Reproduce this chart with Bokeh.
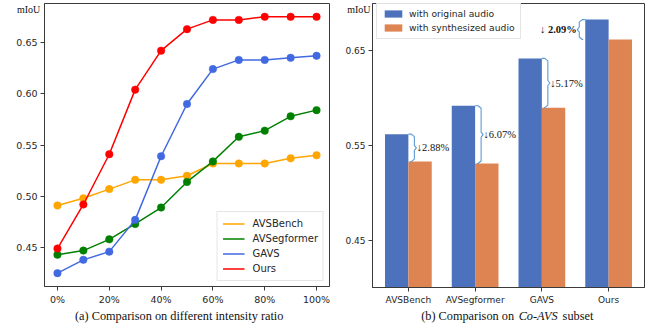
from bokeh.plotting import figure
from bokeh.models import (FixedTicker, Label, Legend, LegendItem, Range1d)
from bokeh.layouts import row, column
from bokeh.embed import file_html
from bokeh.resources import INLINE
from bokeh.core.properties import value

# ---------------- data ----------------
ratios = [0, 10, 20, 30, 40, 50, 60, 70, 80, 90, 100]
ratio_ticks = [0, 20, 40, 60, 80, 100]
ratio_tick_labels = ["0%", "20%", "40%", "60%", "80%", "100%"]

avsbench = [0.491, 0.498, 0.507, 0.516, 0.516, 0.520, 0.532, 0.532, 0.532, 0.537, 0.540]
avsegformer = [0.443, 0.447, 0.458, 0.473, 0.489, 0.514, 0.534, 0.558, 0.564, 0.578, 0.584]
gavs = [0.425, 0.438, 0.446, 0.477, 0.539, 0.590, 0.624, 0.633, 0.633, 0.635, 0.637]
ours = [0.449, 0.492, 0.541, 0.604, 0.642, 0.663, 0.672, 0.672, 0.675, 0.675, 0.675]
series_names = ["AVSBench", "AVSegformer", "GAVS", "Ours"]
series_values = [avsbench, avsegformer, gavs, ours]
series_colors = ["orange", "green", "royalblue", "red"]

left_yticks = [0.45, 0.50, 0.55, 0.60, 0.65]

categories = ["AVSBench", "AVSegformer", "GAVS", "Ours"]
original_audio = [0.562, 0.592, 0.642, 0.683]
synth_audio = [0.533, 0.531, 0.590, 0.662]
drop_labels = ["\u21932.88%", "\u21936.07%", "\u21935.17%", "\u2193 2.09%"]
right_yticks = [0.45, 0.55, 0.65]

y_label = "mIoU"
caption_a = "(a) Comparison on different intensity ratio"
caption_b = ["(b) Comparison on", "Co-AVS", "subset"]

TICK_COLOR = "#262626"
FRAME_COLOR = "#3a3a3a"
SERIF = "Liberation Serif"


def style(p, font_size, label_standoff):
    p.xgrid.visible = False
    p.ygrid.visible = False
    p.outline_line_color = FRAME_COLOR
    p.outline_line_width = 1
    p.outline_line_alpha = 1
    p.background_fill_color = "white"
    p.border_fill_color = "white"
    for ax in (p.xaxis[0], p.yaxis[0]):
        ax.axis_line_color = FRAME_COLOR
        ax.major_tick_line_color = FRAME_COLOR
        ax.major_tick_out = 4
        ax.major_tick_in = 0
        ax.minor_tick_out = 0
        ax.minor_tick_in = 0
        ax.major_label_text_font = "DejaVu Sans"
        ax.major_label_text_font_size = font_size
        ax.major_label_text_color = TICK_COLOR
        ax.major_label_standoff = 3
    ya = p.yaxis[0]
    ya.axis_label = "\n" + y_label
    ya.axis_label_orientation = "horizontal"
    ya.axis_label_text_font = SERIF
    ya.axis_label_text_font_size = "10px"
    ya.axis_label_text_font_style = "normal"
    ya.axis_label_text_color = "#111111"
    ya.axis_label_text_line_height = 1.1
    ya.axis_label_standoff = label_standoff
    if hasattr(ya, "axis_label_align"):
        ya.axis_label_align = "end"


def caption_fig(width, frame_left, frame_right):
    # the caption figure's frame is aligned with the panel's frame above it;
    # its x range is expressed in the panel's own pixel positions
    c = figure(width=width, height=26, output_backend="svg", toolbar_location=None,
               title=None, x_range=Range1d(frame_left, frame_right), y_range=Range1d(26, 0),
               x_axis_type=None, y_axis_type=None, min_border=0)
    c.outline_line_color = None
    c.xgrid.visible = False
    c.ygrid.visible = False
    return c


# ---------------- left panel ----------------
p1 = figure(width=330, height=307, output_backend="svg", toolbar_location=None,
            title=None, x_range=Range1d(-5, 105), y_range=Range1d(0.412, 0.688),
            min_border_left=44, min_border_right=1, min_border_top=3, min_border_bottom=20)
style(p1, "9.5px", -27)
p1.xaxis.ticker = FixedTicker(ticks=ratio_ticks)
p1.xaxis.major_label_overrides = {t: l for t, l in zip(ratio_ticks, ratio_tick_labels)}
p1.yaxis.ticker = FixedTicker(ticks=left_yticks)
p1.yaxis.major_label_overrides = {t: f"{t:.2f}" for t in left_yticks}

items = []
for name, vals, col in zip(series_names, series_values, series_colors):
    lr = p1.line(ratios, vals, line_color=col, line_width=1.5)
    p1.scatter(ratios, vals, size=7.5, fill_color=col, line_color=col, line_width=0.5)
    items.append(LegendItem(label=name, renderers=[lr]))

leg1 = Legend(items=items, location="bottom_right", margin=5, padding=5, spacing=2,
              glyph_width=22, glyph_height=13, label_height=13, label_standoff=8,
              label_text_font="DejaVu Sans", label_text_font_size="10px",
              label_text_color=TICK_COLOR, border_line_color="#cccccc",
              border_line_width=1, background_fill_alpha=0.85)
p1.add_layout(leg1)

c1 = caption_fig(330, 44, 329)
c1.text(x=[178.7], y=[8], text=[caption_a], text_font=value(SERIF),
        text_font_size="12.3px", text_color="#111111", text_align="center",
        text_baseline="middle")

# ---------------- right panel ----------------
p2 = figure(width=337, height=307, output_backend="svg", toolbar_location=None,
            title=None, x_range=Range1d(-0.5375, 3.5375), y_range=Range1d(0.40, 0.70),
            min_border_left=42, min_border_right=23, min_border_top=3, min_border_bottom=20)
style(p2, "9px", -28)
idx = list(range(len(categories)))
p2.xaxis.ticker = FixedTicker(ticks=idx)
p2.xaxis.major_label_overrides = {i: c for i, c in zip(idx, categories)}
p2.yaxis.ticker = FixedTicker(ticks=right_yticks)
p2.yaxis.major_label_overrides = {t: f"{t:.2f}" for t in right_yticks}

bw = 0.35
r_orig = p2.vbar(x=[i - bw / 2 for i in idx], top=original_audio, bottom=0, width=bw,
                 fill_color="#4C72BD", line_color=None)
r_syn = p2.vbar(x=[i + bw / 2 for i in idx], top=synth_audio, bottom=0, width=bw,
                fill_color="#DD8452", line_color=None)

# braces (derived from the bar values)
ypx = 0.30 / 283.5   # data units per pixel (y)
xpx = 4.075 / 272.6  # data units per pixel (x)
bxs, bys = [], []
for i, (top, bot) in enumerate(zip(original_audio, synth_audio)):
    mid = (top + bot) / 2
    if i < len(idx) - 1:
        s = 1
        edge = i
        bx = i + 6 * xpx
    else:
        s = -1
        edge = i - bw
        bx = i - bw - 6 * xpx
    d = 2.5 * ypx
    xs = [edge, bx - s * 3 * xpx, bx, bx, bx + s * 2 * xpx, bx, bx, bx - s * 3 * xpx, edge + s * 2 * xpx]
    ys = [top, top, top - d, mid + d, mid, mid - d, bot + d, bot, bot]
    bxs.append(xs)
    bys.append(ys)
    bold = (i == len(idx) - 1)
    p2.add_layout(Label(x=bx + s * 2.5 * xpx, y=mid, text=drop_labels[i],
                        text_font=SERIF, text_font_size="10.5px",
                        text_font_style="bold" if bold else "normal",
                        text_color="#111111", text_baseline="middle",
                        text_align="left" if s == 1 else "right"))
p2.multi_line(bxs, bys, line_color="#5B9BD5", line_width=1.1)

leg2 = Legend(items=[LegendItem(label="with original audio", renderers=[r_orig]),
                     LegendItem(label="with synthesized audio", renderers=[r_syn])],
              location=(4, 248), margin=0, padding=5, spacing=2,
              glyph_width=22, glyph_height=9, label_height=12, label_standoff=5,
              label_text_font="DejaVu Sans", label_text_font_size="9.2px",
              label_text_color=TICK_COLOR, border_line_color="#cccccc",
              border_line_width=1, background_fill_alpha=0.85)
p2.add_layout(leg2)

c2 = caption_fig(337, 42, 314.3)
cap_x = [90.7, 188.3, 232.3]
cap_style = ["normal", "italic", "normal"]
for tx, txt, st in zip(cap_x, caption_b, cap_style):
    c2.text(x=[tx], y=[8], text=[txt], text_font=value(SERIF), text_font_size="12.3px",
            text_font_style=st, text_color="#111111", text_align="left",
            text_baseline="middle")

layout = row(column(p1, c1, spacing=0), column(p2, c2, spacing=0), spacing=0)
open("out.html", "w").write(file_html(layout, INLINE))
